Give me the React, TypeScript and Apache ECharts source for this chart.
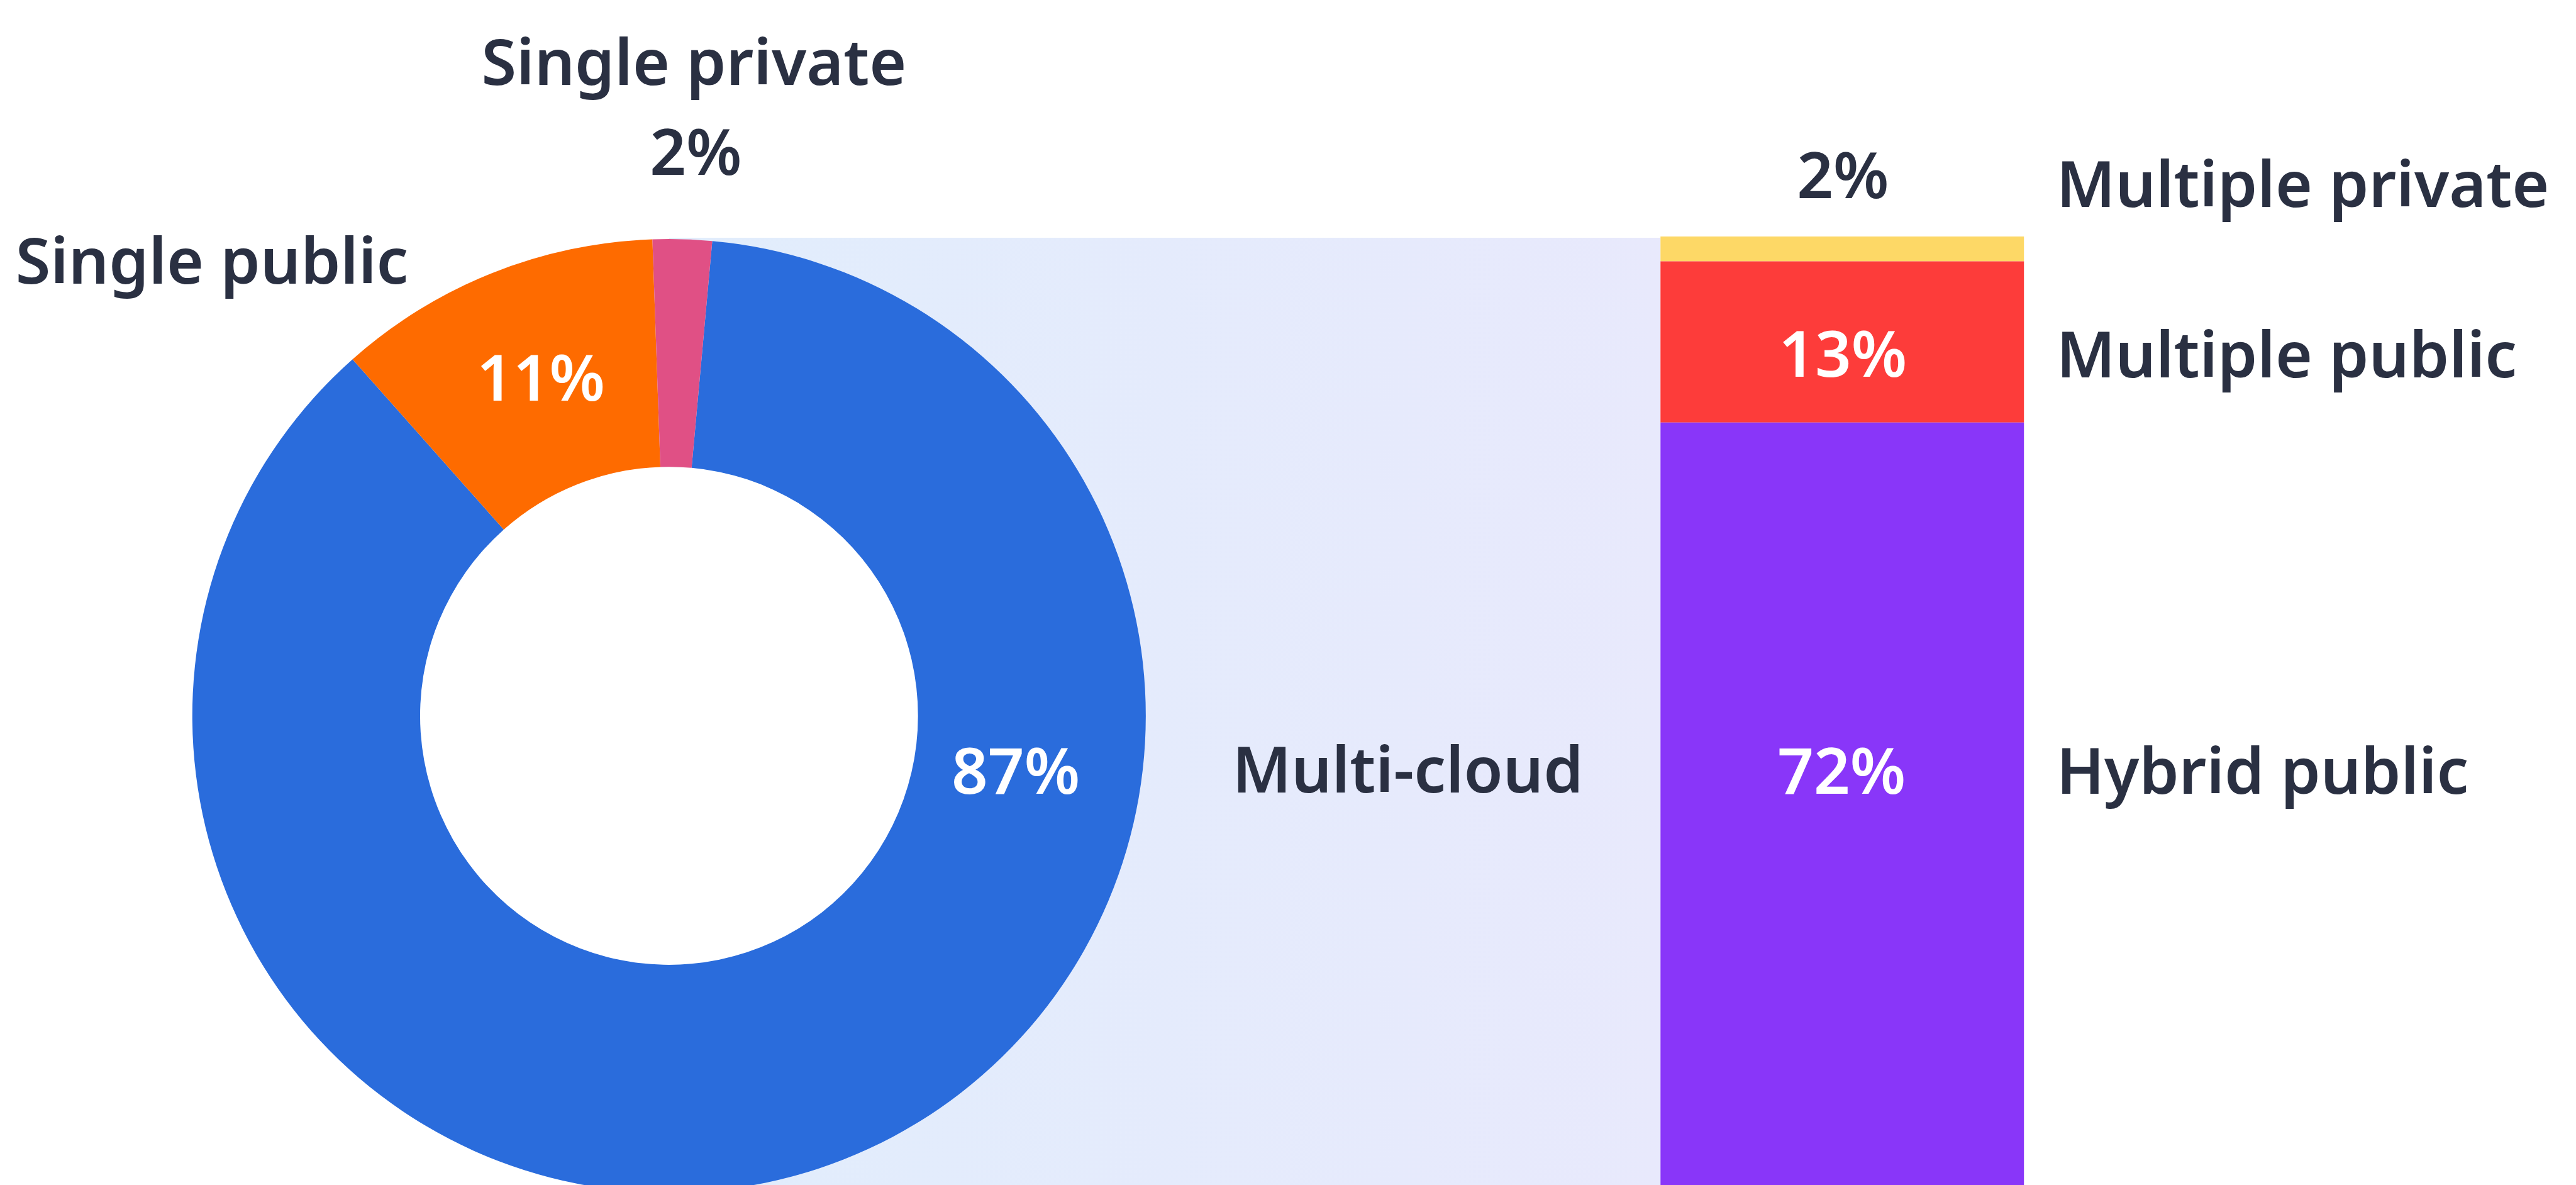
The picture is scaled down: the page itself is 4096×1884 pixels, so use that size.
import React, { useEffect, useRef } from "react";
import * as echarts from "echarts";

// ---- data ----
const pieNames = ["Multi-cloud", "Single public", "Single private"];
const pieValues = [87, 11, 2];
const pieColors = ["#2a6cdc", "#fe6b00", "#e05085"];

const barNames = ["Multiple private", "Multiple public", "Hybrid public"];
const barValues = [2, 13, 72];
const barColors = ["#fdd866", "#fd3c3a", "#8936f9"];

const W = 4096;
const H = 1884;
const S = W / 4139;
const F = 101;
const DARK = "#2a3042";
const FONT = '"Noto Sans", "Open Sans", sans-serif';

function txt(text: string, xRef: number, baseRef: number, align: string, color: string) {
  return {
    type: "text",
    z: 100,
    x: xRef * S,
    y: baseRef * S - 0.33 * F,
    style: {
      text,
      fill: color,
      fontSize: F,
      fontWeight: 600,
      fontFamily: FONT,
      align,
      textAlign: align,
      verticalAlign: "middle",
      textVerticalAlign: "middle",
    },
  };
}

export default function App() {
  const ref = useRef<HTMLDivElement>(null);
  useEffect(() => {
    if (!ref.current) return;
    const chart = echarts.init(ref.current, null, { renderer: "svg" });
    const pct = (v: number) => `${v}%`;
    const barTop = 380;
    const unit = 259 / 13; // px per % in reference
    const yMax = (1904 - barTop) / unit;
    const cx = 1075 * S;
    const cy = 1150 * S;
    const rIn = 400 * S;
    const rOut = 766 * S;

    const option: any = {
      animation: false,
      backgroundColor: "#ffffff",
      grid: {
        left: 2668 * S,
        width: (3252 - 2668) * S,
        top: barTop * S,
        bottom: 0,
        containLabel: false,
      },
      xAxis: { type: "category", data: ["Multi-cloud"], show: false },
      yAxis: { type: "value", inverse: true, min: 0, max: yMax, show: false },
      series: [
        {
          type: "pie",
          center: [cx, cy],
          radius: [rIn, rOut],
          startAngle: 84.8,
          clockwise: true,
          label: { show: false },
          labelLine: { show: false },
          emphasis: { disabled: true },
          silent: true,
          itemStyle: { borderWidth: 0 },
          data: pieNames.map((n, i) => ({
            name: n,
            value: pieValues[i],
            itemStyle: { color: pieColors[i] },
          })),
        },
        ...barNames.map((n, i) => ({
          type: "bar",
          name: n,
          stack: "multi",
          barWidth: "100%",
          silent: true,
          emphasis: { disabled: true },
          itemStyle: { color: barColors[i] },
          data: [barValues[i]],
        })),
      ],
      graphic: [
        {
          type: "rect",
          z: -10,
          silent: true,
          shape: { x: cx, y: 382 * S, width: 2668 * S - cx, height: H },
          style: {
            fill: new echarts.graphic.LinearGradient(0, 0, 1, 0, [
              { offset: 0, color: "#e1edfc" },
              { offset: 1, color: "#e8e9fc" },
            ]),
          },
        },
        {
          type: "circle",
          z: -5,
          silent: true,
          shape: { cx, cy, r: rIn + 2 },
          style: { fill: "#ffffff" },
        },
        // pie labels
        txt(pieNames[2], 1115, 131, "center", DARK),
        txt(pct(pieValues[2]), 1118, 275, "center", DARK),
        txt(pieNames[1], 25, 450, "left", DARK),
        txt(pct(pieValues[1]), 869, 638, "center", "#ffffff"),
        txt(pct(pieValues[0]), 1632, 1270, "center", "#ffffff"),
        txt(pieNames[0], 2262, 1268, "center", DARK),
        // bar labels
        txt(pct(barValues[0]), 2961, 313, "center", DARK),
        txt(barNames[0], 3304, 327, "left", DARK),
        txt(pct(barValues[1]), 2961, 600, "center", "#ffffff"),
        txt(barNames[1], 3304, 601, "left", DARK),
        txt(pct(barValues[2]), 2959, 1270, "center", "#ffffff"),
        txt(barNames[2], 3304, 1270, "left", DARK),
      ],
    };
    chart.setOption(option);
    return () => chart.dispose();
  }, []);
  return (
    <div
      ref={ref}
      style={{ position: "fixed", left: 0, top: 0, width: W, height: H, background: "#fff" }}
    />
  );
}
